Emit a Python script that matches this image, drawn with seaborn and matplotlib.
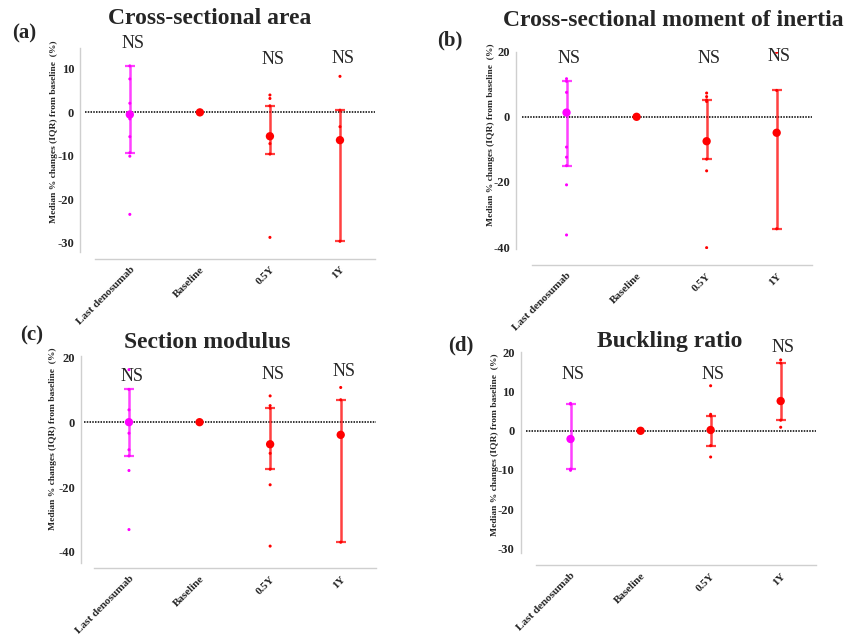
import numpy as np
import pandas as pd
import matplotlib
matplotlib.use("Agg")
import matplotlib.pyplot as plt
import seaborn as sns

# ---- data ----
CATEGORIES = ["Last denosumab", "Baseline", "0.5Y", "1Y"]
GROUP_COLORS = ["#ff00ff", "#ff0000", "#ff0000", "#ff0000"]
BASELINE_PTS = [0.0]
NS_GROUPS = ["Last denosumab", "0.5Y", "1Y"]

# (a) cross-sectional area
area_last_pts = [10.7, 7.7, 2.1, -0.6, -1.5, -5.6, -9.3, -10.1, -23.5]
area_half_pts = [4.0, 3.2, 1.5, -5.5, -7.2, -9.6, -28.8]
area_one_pts = [8.3, 0.5, -3.3, -6.4, -29.7]
area_median = [-0.5, 0.0, -5.5, -6.4]
area_q1 = [-9.3, 0.0, -9.6, -29.7]
area_q3 = [10.7, 0.0, 1.5, 0.5]
area_ns_y = [15.9, 12.1, 12.3]

# (b) cross-sectional moment of inertia
inertia_last_pts = [11.7, 10.9, 7.5, 1.3, -9.3, -12.4, -15.0, -20.9, -36.3]
inertia_half_pts = [7.3, 6.2, 5.2, 4.7, -7.5, -13.0, -16.6, -40.2]
inertia_one_pts = [19.8, 8.1, -4.9, -34.4]
inertia_median = [1.3, 0.0, -7.5, -4.9]
inertia_q1 = [-15.0, 0.0, -13.0, -34.4]
inertia_q3 = [10.9, 0.0, 5.2, 8.1]
inertia_ns_y = [17.9, 17.9, 18.4]

# (c) section modulus
modulus_last_pts = [16.2, 10.1, 3.8, 0.0, -3.4, -8.5, -10.4, -14.9, -33.1]
modulus_half_pts = [8.1, 5.1, 4.3, -6.8, -9.6, -14.5, -19.3, -38.2]
modulus_one_pts = [10.7, 6.9, -3.9, -4.6, -37.0]
modulus_median = [0.0, 0.0, -6.8, -3.9]
modulus_q1 = [-10.4, 0.0, -14.5, -37.0]
modulus_q3 = [10.1, 0.0, 4.3, 6.9]
modulus_ns_y = [14.1, 14.8, 15.5]

# (d) buckling ratio
buckling_last_pts = [7.0, 6.8, -2.1, -9.8, -10.1]
buckling_half_pts = [11.5, 4.2, 3.8, 0.2, -3.8, -6.7]
buckling_one_pts = [18.1, 17.3, 7.6, 2.7, 0.9]
buckling_median = [-2.1, 0.0, 0.2, 7.6]
buckling_q1 = [-9.8, 0.0, -3.8, 2.7]
buckling_q3 = [6.8, 0.0, 3.8, 17.3]
buckling_ns_y = [14.4, 14.4, 21.3]

YLABEL = "Median % changes (IQR) from baseline  (%)"

W, H = 847, 636
SERIF = ["Liberation Serif", "DejaVu Serif"]

sns.set_style("white")
plt.rcParams["font.family"] = SERIF
plt.rcParams["font.weight"] = "bold"
plt.rcParams["axes.unicode_minus"] = False

fig = plt.figure(figsize=(W / 100, H / 100), dpi=100)


def px_axes(left, top, right, bottom):
    """Add axes from pixel box of the data area."""
    return fig.add_axes([left / W, 1 - bottom / H, (right - left) / W, (bottom - top) / H])


def draw_panel(ax, last_pts, half_pts, one_pts, median, q1, q3, ns_y,
               ylim, yticks, x_offset, y_offset, label_y):
    df = pd.DataFrame({
        "group": (["Last denosumab"] * len(last_pts) + ["Baseline"] * len(BASELINE_PTS)
                  + ["0.5Y"] * len(half_pts) + ["1Y"] * len(one_pts)),
        "value": last_pts + BASELINE_PTS + half_pts + one_pts,
    })
    palette = dict(zip(CATEGORIES, GROUP_COLORS))

    # individual points
    sns.stripplot(data=df, x="group", y="value", hue="group", order=CATEGORIES,
                  palette=palette, jitter=False, size=2.2, linewidth=0,
                  legend=False, ax=ax, zorder=3)

    # median + IQR whiskers
    summ = pd.DataFrame({"group": CATEGORIES, "median": median, "q1": q1, "q3": q3})
    for i, row in summ.iterrows():
        if row["group"] != "Baseline":
            ax.errorbar(i, row["median"],
                        yerr=[[row["median"] - row["q1"]], [row["q3"] - row["median"]]],
                        fmt="none", ecolor=GROUP_COLORS[i], alpha=0.75,
                        elinewidth=1.8, capsize=3.5, capthick=1.6, zorder=4)
    sns.scatterplot(data=summ, x="group", y="median", hue="group", palette=palette,
                    s=36, linewidth=0, legend=False, ax=ax, zorder=5)

    ax.axhline(0, color="black", linestyle=(0, (1, 0.8)), lw=1.1, zorder=2)

    for grp, y in zip(NS_GROUPS, ns_y):
        ax.text(CATEGORIES.index(grp) + 0.04, y, "NS", ha="center", va="center",
                fontsize=13, fontweight="normal", family=SERIF, clip_on=False)

    ax.set_xlim(-0.64, 3.5)
    ax.set_ylim(*ylim)
    ax.set_yticks(yticks)
    ax.set_xlabel("")
    ax.set_ylabel(YLABEL, fontsize=6.8, fontweight="bold")
    ax.yaxis.set_label_coords(-0.093, label_y)

    sns.despine(ax=ax)
    for side in ["left", "bottom"]:
        ax.spines[side].set_color("#cfcfcf")
        ax.spines[side].set_linewidth(1.0)
    ax.spines["left"].set_position(("outward", y_offset))
    ax.spines["bottom"].set_position(("outward", x_offset))
    ax.spines["bottom"].set_bounds(-0.5, 3.5)

    ax.tick_params(axis="both", length=3, width=1, color="#bdbdbd", pad=1.5)
    ax.tick_params(axis="y", labelsize=9)
    ax.tick_params(axis="x", labelsize=8)
    for lab in ax.get_xticklabels():
        lab.set_rotation(45)
        lab.set_ha("right")
        lab.set_rotation_mode("anchor")
        lab.set_fontweight("bold")
    for lab in ax.get_yticklabels():
        lab.set_fontweight("bold")


ax_a = px_axes(85, 47.7, 375, 251.7)
draw_panel(ax_a, area_last_pts, area_half_pts, area_one_pts, area_median, area_q1,
           area_q3, area_ns_y, (-32.1, 14.9), [10, 0, -10, -20, -30], 5, 3.3, 0.59)

ax_b = px_axes(521.7, 51.7, 811.7, 249.3)
draw_panel(ax_b, inertia_last_pts, inertia_half_pts, inertia_one_pts, inertia_median,
           inertia_q1, inertia_q3, inertia_ns_y, (-40.7, 20.0), [20, 0, -20, -40],
           11.4, 4, 0.58)

ax_c = px_axes(83.8, 356, 376, 563.3)
draw_panel(ax_c, modulus_last_pts, modulus_half_pts, modulus_one_pts, modulus_median,
           modulus_q1, modulus_q3, modulus_ns_y, (-43.5, 20.4), [20, 0, -20, -40],
           3.4, 2, 0.60)

ax_d = px_axes(525.7, 351.7, 815.7, 553.3)
draw_panel(ax_d, buckling_last_pts, buckling_half_pts, buckling_one_pts, buckling_median,
           buckling_q1, buckling_q3, buckling_ns_y, (-31.3, 20.2),
           [20, 10, 0, -10, -20, -30], 8.4, 3.4, 0.54)

# titles and panel letters (pixel positions)
titles = [("Cross-sectional area", 210, 18), ("Cross-sectional moment of inertia", 673, 20),
          ("Section modulus", 207, 342.7), ("Buckling ratio", 670, 341.7)]
for txt, x, y in titles:
    fig.text(x / W, 1 - y / H, txt, ha="center", va="center", fontsize=17,
             fontweight="bold", family=SERIF)

letters = [("(a)", 24, 33), ("(b)", 450, 40), ("(c)", 32, 335), ("(d)", 461, 345)]
for txt, x, y in letters:
    fig.text(x / W, 1 - y / H, txt, ha="center", va="center", fontsize=15,
             fontweight="bold", family=SERIF)

fig.savefig("out.png", dpi=100)
